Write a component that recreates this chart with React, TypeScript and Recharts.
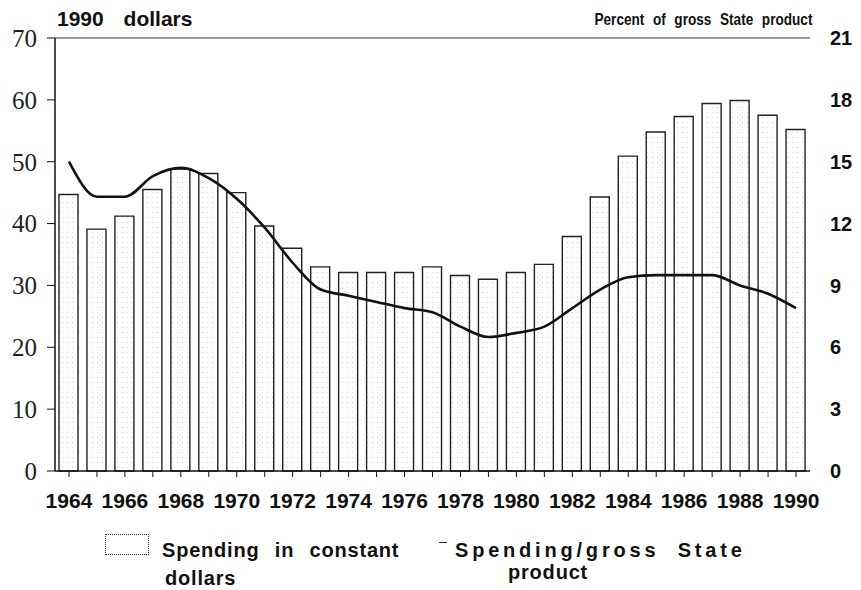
import React from 'react'
import {
  Bar,
  ComposedChart,
  Line,
  ReferenceLine,
  XAxis,
  YAxis,
} from 'recharts'

// years on the x axis
const years = [
  1964, 1965, 1966, 1967, 1968, 1969, 1970, 1971, 1972, 1973, 1974, 1975, 1976, 1977,
  1978, 1979, 1980, 1981, 1982, 1983, 1984, 1985, 1986, 1987, 1988, 1989, 1990,
]

// spending in constant 1990 dollars (left axis)
const spending = [
  44.7, 39.1, 41.2, 45.5, 48.8, 48.1, 45.0, 39.6, 36.0, 33.0, 32.1, 32.1, 32.1, 33.0,
  31.6, 31.0, 32.1, 33.4, 37.9, 44.3, 50.9, 54.8, 57.3, 59.4, 59.9, 57.5, 55.2,
]

// spending as percent of gross State product (right axis)
const percentGSP = [
  15.0, 13.3, 13.3, 14.3, 14.7, 14.2, 13.2, 11.8, 10.1, 8.8, 8.5, 8.2, 7.9, 7.7,
  7.0, 6.5, 6.7, 7.0, 7.9, 8.8, 9.4, 9.5, 9.5, 9.5, 9.0, 8.6, 7.9,
]

const leftTicks = [0, 10, 20, 30, 40, 50, 60, 70]
const rightTicks = [0, 3, 6, 9, 12, 15, 18, 21]

const chartData = years.map((year, i) => ({
  year,
  spending: spending[i],
  pct: percentGSP[i],
}))

const sans = '"Liberation Sans", Arial, sans-serif'
const serif = '"Liberation Serif", "Times New Roman", serif'

// only every other year gets a label, but every year gets a tick mark
const YearTick = ({ x, y, payload }: any) => {
  if (payload.value % 2 !== 0) return null
  return (
    <text
      x={x}
      y={y}
      dy="0.71em"
      textAnchor="middle"
      fill="#111"
      fontFamily={sans}
      fontWeight="bold"
      fontSize={21}
    >
      {payload.value}
    </text>
  )
}

export default function App() {
  return (
    <div
      style={{
        position: 'absolute',
        left: 0,
        top: 0,
        width: 861,
        height: 590,
        background: '#fff',
        fontFamily: sans,
        color: '#111',
      }}
    >
      <div
        style={{
          position: 'absolute',
          left: 57,
          top: 7,
          fontSize: 21,
          fontWeight: 'bold',
          wordSpacing: 14,
          whiteSpace: 'nowrap',
        }}
      >
        1990 dollars
      </div>
      <div
        style={{
          position: 'absolute',
          right: 49,
          top: 10,
          fontSize: 17,
          fontWeight: 'bold',
          wordSpacing: 6,
          whiteSpace: 'nowrap',
          transform: 'scaleX(0.8)',
          transformOrigin: 'right center',
        }}
      >
        Percent of gross State product
      </div>

      <ComposedChart
        width={861}
        height={590}
        data={chartData}
        margin={{ top: 38, right: 0, left: 0, bottom: 79 }}
      >
        <defs>
          <pattern id="dots" width="5" height="5" patternUnits="userSpaceOnUse">
            <rect width="5" height="5" fill="#fff" />
            <rect x="2" y="2" width="1" height="1" fill="#d4d4d4" />
          </pattern>
        </defs>
        <XAxis
          dataKey="year"
          interval={0}
          axisLine={{ stroke: '#111', strokeWidth: 1.5 }}
          tickLine={{ stroke: '#111' }}
          tickSize={6}
          tickMargin={16}
          height={40}
          tick={<YearTick />}
        />
        <YAxis
          yAxisId="left"
          domain={[0, 70]}
          ticks={leftTicks}
          width={55}
          axisLine={{ stroke: '#111', strokeWidth: 1.5 }}
          tickLine={{ stroke: '#111' }}
          tickSize={8}
          tickMargin={10}
          tick={{ fill: '#222', fontFamily: serif, fontSize: 25 }}
        />
        <YAxis
          yAxisId="right"
          orientation="right"
          domain={[0, 21]}
          ticks={rightTicks}
          width={51}
          axisLine={false}
          tickLine={false}
          tickSize={0}
          tickMargin={20}
          tick={{ fill: '#111', fontFamily: sans, fontWeight: 'bold', fontSize: 20 }}
        />
        <ReferenceLine yAxisId="left" y={70} stroke="#777" strokeWidth={1.5} />
        <Bar
          yAxisId="left"
          dataKey="spending"
          barSize={19}
          fill="url(#dots)"
          stroke="#222"
          strokeWidth={1.4}
          isAnimationActive={false}
        />
        <Line
          yAxisId="right"
          type="monotone"
          dataKey="pct"
          stroke="#111"
          strokeWidth={2.6}
          dot={false}
          isAnimationActive={false}
        />
      </ComposedChart>

      {/* legend */}
      <div
        style={{
          position: 'absolute',
          left: 105,
          top: 534,
          width: 42,
          height: 19,
          border: '1.2px dotted #333',
        }}
      />
      <div
        style={{
          position: 'absolute',
          left: 162,
          top: 536,
          fontSize: 20,
          fontWeight: 'bold',
          lineHeight: '28px',
          letterSpacing: 0.8,
          wordSpacing: 9,
          whiteSpace: 'nowrap',
        }}
      >
        Spending in constant
        <br />
        <span style={{ marginLeft: 3 }}>dollars</span>
      </div>
      <div
        style={{
          position: 'absolute',
          left: 439,
          top: 542,
          width: 8,
          height: 0,
          borderTop: '1.5px solid #333',
        }}
      />
      <div
        style={{
          position: 'absolute',
          left: 455,
          top: 539,
          fontSize: 20,
          fontWeight: 'bold',
          lineHeight: '22px',
          letterSpacing: 3.8,
          wordSpacing: 9,
          whiteSpace: 'nowrap',
        }}
      >
        Spending/gross State
        <br />
        <span style={{ marginLeft: 53, letterSpacing: 0.8 }}>product</span>
      </div>
    </div>
  )
}
